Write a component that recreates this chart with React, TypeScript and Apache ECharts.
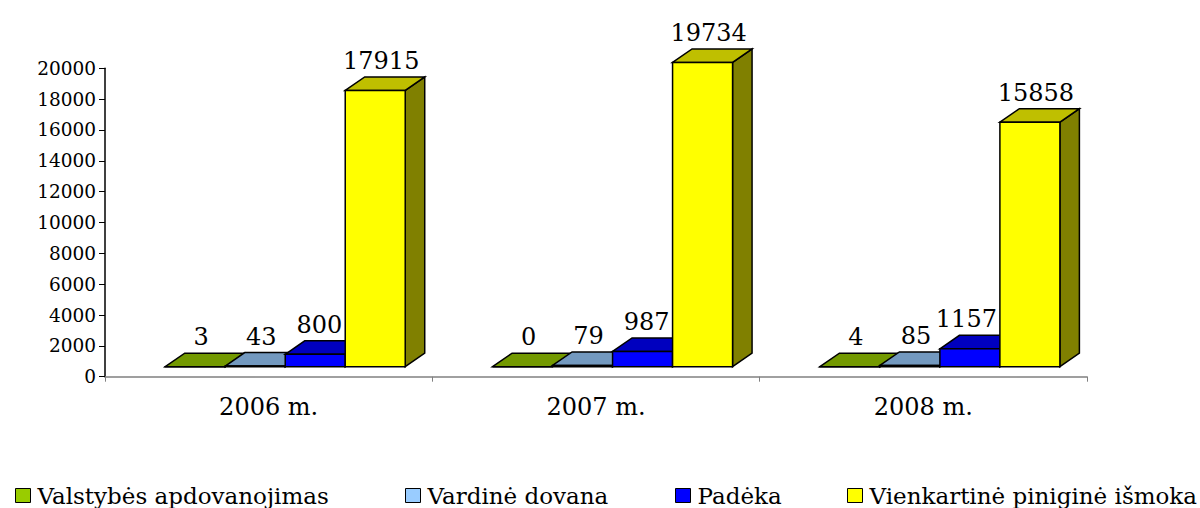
import React, { useEffect, useRef } from "react";
import * as echarts from "echarts";

const categories = ["2006 m.", "2007 m.", "2008 m."];
const seriesNames = [
  "Valstybės apdovanojimas",
  "Vardinė dovana",
  "Padėka",
  "Vienkartinė piniginė išmoka",
];
const valstybes = [3, 0, 4];
const vardine = [43, 79, 85];
const padeka = [800, 987, 1157];
const vienkartine = [17915, 19734, 15858];
const seriesValues = [valstybes, vardine, padeka, vienkartine];

const frontColors = ["#99cc00", "#99ccff", "#0000ff", "#ffff00"];
const topColors = ["#739900", "#7399bf", "#0000bf", "#bfbf00"];
const sideColors = ["#4d6600", "#4d6680", "#000080", "#808000"];
const legendLeft = [10, 400, 670, 842];

const FONT = "DejaVu Serif";

export default function App() {
  const ref = useRef<HTMLDivElement>(null);
  useEffect(() => {
    if (!ref.current) return;
    const chart = echarts.init(ref.current, null, { renderer: "svg" });
    const DX = 19.5;
    const DY = 13.5;
    const LIFT = 10;
    const LABEL_SIZE = 24;

    const makeRender = (s: number) => (params: any, api: any) => {
      const ci = api.value(0);
      const v = api.value(1);
      const base = api.coord([ci, 0]);
      const topPt = api.coord([ci, v]);
      const catW = api.size([1, 0])[0];
      const bw = catW * 0.1833;
      const x0 = base[0] - catW * 0.316 + s * bw;
      const yb = base[1] - LIFT;
      const yt = topPt[1] - LIFT;
      const stroke = { stroke: "#000", lineWidth: 1.5 };
      const txt = String(v);
      const tw = txt.length * 0.636 * LABEL_SIZE;
      let cx = x0 + bw / 2 + 6;
      if (s < 3) cx = Math.min(cx, x0 + bw - 3 - tw / 2);
      return {
        type: "group",
        children: [
          {
            type: "polygon",
            shape: {
              points: [
                [x0 + bw, yb],
                [x0 + bw + DX, yb - DY],
                [x0 + bw + DX, yt - DY],
                [x0 + bw, yt],
              ],
            },
            style: { fill: sideColors[s], ...stroke },
          },
          {
            type: "polygon",
            shape: {
              points: [
                [x0, yt],
                [x0 + DX, yt - DY],
                [x0 + bw + DX, yt - DY],
                [x0 + bw, yt],
              ],
            },
            style: { fill: topColors[s], ...stroke },
          },
          {
            type: "rect",
            shape: { x: x0, y: yt, width: bw, height: Math.max(yb - yt, 0) },
            style: { fill: frontColors[s], ...stroke },
          },
          {
            type: "text",
            x: cx,
            y: yt - DY - 4,
            style: {
              text: txt,
              fill: "#000",
              font: `${LABEL_SIZE}px "${FONT}"`,
              align: "center",
              verticalAlign: "bottom",
            },
          },
        ],
      };
    };

    const series = seriesNames.map((name, s) => ({
      type: "custom",
      name,
      renderItem: makeRender(s),
      itemStyle: { color: frontColors[s], borderColor: "#000", borderWidth: 1 },
      data: seriesValues[s].map((v, i) => [i, v]),
      encode: { x: 0, y: 1 },
      z: 2 + s,
    }));

    const legends = seriesNames.map((name, s) => ({
      show: true,
      left: legendLeft[s],
      top: 479,
      orient: "horizontal",
      itemWidth: 15,
      itemHeight: 14,
      selectedMode: false,
      data: [
        {
          name,
          icon: "rect",
          itemStyle: { color: frontColors[s], borderColor: "#000", borderWidth: 1 },
        },
      ],
      textStyle: {
        fontFamily: FONT,
        fontSize: 23,
        color: "#000",
        padding: [0, 0, 0, 2],
      },
    }));

    chart.setOption({
      animation: false,
      backgroundColor: "#ffffff",
      grid: { left: 105, right: 113, top: 68.3, bottom: 131.3, containLabel: false },
      legend: legends,
      xAxis: {
        type: "category",
        data: categories,
        boundaryGap: true,
        axisLine: { lineStyle: { color: "#808080", width: 1.5 } },
        axisTick: { show: true, length: 5, lineStyle: { color: "#808080" } },
        axisLabel: { fontFamily: FONT, fontSize: 24, color: "#000", margin: 18 },
        splitLine: { show: false },
      },
      yAxis: {
        type: "value",
        min: 0,
        max: 20000,
        interval: 2000,
        axisLine: { show: true, lineStyle: { color: "#000", width: 1.5 } },
        axisTick: { show: true, length: 6, lineStyle: { color: "#000" } },
        axisLabel: {
          fontFamily: FONT,
          fontSize: 18.5,
          color: "#000",
          margin: 9,
          formatter: (val: number) => String(val),
        },
        splitLine: { show: false },
      },
      series,
    });
    return () => chart.dispose();
  }, []);
  return (
    <div
      ref={ref}
      style={{ position: "fixed", left: 0, top: 0, width: 1200, height: 508, background: "#fff" }}
    />
  );
}
